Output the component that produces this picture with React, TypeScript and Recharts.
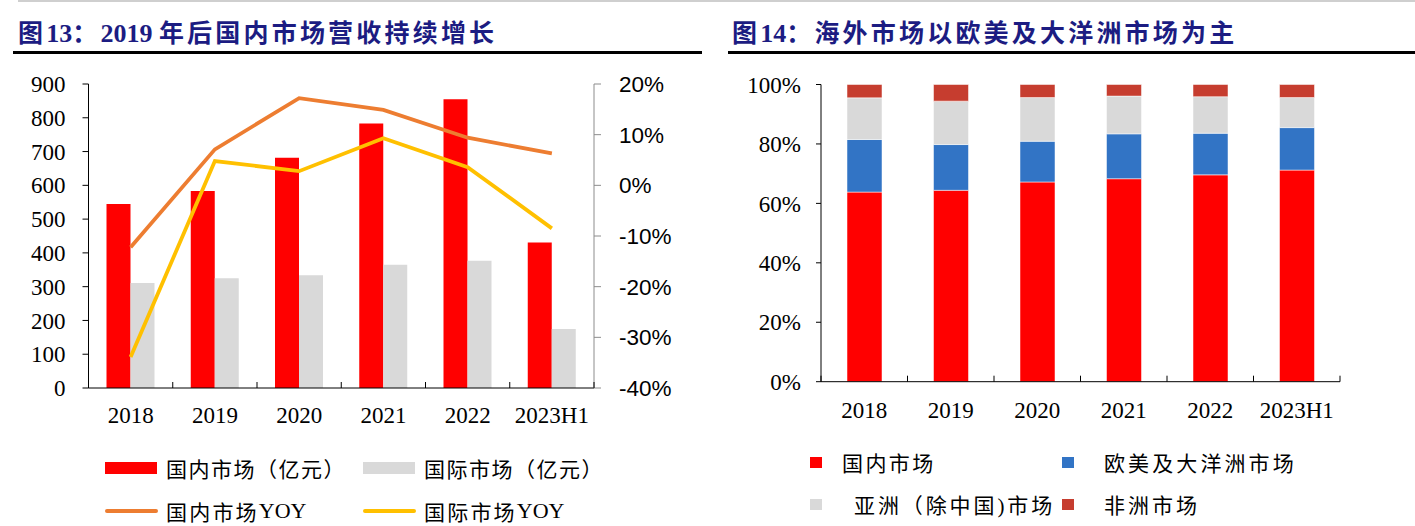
import React from 'react';
import { ComposedChart, BarChart, Bar, Line, XAxis, YAxis } from 'recharts';

const years = ['2018', '2019', '2020', '2021', '2022', '2023H1'];

// 图13 (亿元 / %)
const domesticRevenue = [545, 583, 682, 783, 855, 431];
const overseasRevenue = [311, 325, 334, 365, 377, 175];
const domesticYoy = [-12.2, 7.1, 17.2, 14.9, 9.4, 6.3];
const overseasYoy = [-33.9, 4.8, 2.8, 9.3, 3.6, -8.5];
const revenueTicks = [0, 100, 200, 300, 400, 500, 600, 700, 800, 900];
const yoyTicks = [-40, -30, -20, -10, 0, 10, 20];

// 图14 (%)
const domesticShare = [63.8, 64.4, 67.2, 68.3, 69.6, 71.2];
const euroOceaniaShare = [17.7, 15.4, 13.7, 15.1, 14.0, 14.3];
const asiaShare = [14.0, 14.6, 14.7, 12.7, 12.3, 10.1];
const africaShare = [4.5, 5.6, 4.4, 3.9, 4.1, 4.4];
const shareTicks = [0, 20, 40, 60, 80, 100];

const revenueData = years.map((year, i) => ({
  year,
  domestic: domesticRevenue[i],
  overseas: overseasRevenue[i],
  domesticYoy: domesticYoy[i],
  overseasYoy: overseasYoy[i],
}));

const shareData = years.map((year, i) => ({
  year,
  domestic: domesticShare[i],
  euroOceania: euroOceaniaShare[i],
  asia: asiaShare[i],
  africa: africaShare[i],
}));

const SERIF = "'Liberation Serif', 'Noto Sans CJK SC', serif";
const SANS = "'Liberation Sans', sans-serif";
const CJK = "'Liberation Serif', 'Noto Sans CJK SC', sans-serif";
const TITLE_COLOR = '#1c1c82';

// x-axis tick: short inward mark on each category boundary, label centered below
function makeCategoryTick(band: number, labelDy: number) {
  return function CategoryTick(props: any) {
    const { x, y, payload } = props;
    const isLast = payload.value === years[years.length - 1];
    return (
      <g>
        <line x1={x - band / 2} y1={y} x2={x - band / 2} y2={y - 6} stroke="#000" strokeWidth={1} />
        {isLast && <line x1={x + band / 2} y1={y} x2={x + band / 2} y2={y - 6} stroke="#000" strokeWidth={1} />}
        <text x={x} y={y + labelDy} textAnchor="middle" fill="#000" fontSize={23} fontFamily={SERIF}>
          {payload.value}
        </text>
      </g>
    );
  };
}

// title: CJK parts spaced out, numbers in bold serif
function Title({ left, parts, lineLeft, lineWidth }: { left: number; parts: string[]; lineLeft: number; lineWidth: number }) {
  return (
    <>
      <div
        style={{
          position: 'absolute',
          left,
          top: 20,
          fontWeight: 700,
          lineHeight: '28px',
          color: TITLE_COLOR,
          whiteSpace: 'pre',
        }}
      >
        {parts.map((p, i) =>
          /^[0-9 ]+$/.test(p) ? (
            <span key={i} style={{ fontFamily: SERIF, fontSize: 26 }}>{p}</span>
          ) : (
            <span key={i} style={{ fontFamily: CJK, fontSize: 25, letterSpacing: 3.2 }}>{p}</span>
          )
        )}
      </div>
      <div style={{ position: 'absolute', left: lineLeft, top: 51, width: lineWidth, height: 3, background: '#000' }} />
    </>
  );
}

function LegendItem({ left, top, swatch, label, suffix, spacing }: { left: number; top: number; swatch: React.ReactNode; label: string; suffix?: string; spacing: number }) {
  return (
    <div style={{ position: 'absolute', left, top, display: 'flex', alignItems: 'center', whiteSpace: 'nowrap' }}>
      {swatch}
      <span style={{ fontFamily: CJK, fontSize: 21, letterSpacing: spacing, color: '#000' }}>{label}</span>
      {suffix && <span style={{ fontFamily: SERIF, fontSize: 22, color: '#000' }}>{suffix}</span>}
    </div>
  );
}

export default function App() {
  const leftBand = (594 - 88.5) / years.length;
  const rightBand = (1340 - 821) / years.length;

  const rect = (color: string) => <span style={{ display: 'inline-block', width: 52, height: 12, background: color, marginRight: 9 }} />;
  const line = (color: string) => (
    <span style={{ display: 'inline-block', width: 53, height: 4, borderRadius: 2, background: color, marginRight: 8 }} />
  );
  const square = (color: string, gap: number) => (
    <span style={{ display: 'inline-block', width: 12, height: 11, background: color, marginRight: gap }} />
  );

  return (
    <div style={{ position: 'absolute', left: 0, top: 0, width: 1415, height: 526, background: '#fff', overflow: 'hidden' }}>
      <div style={{ position: 'absolute', left: 18, top: 0, width: 1397, height: 2, background: '#cfcfcf' }} />
      <Title left={18} parts={['图', '13', '：', '2019 ', '年后国内市场营收持续增长']} lineLeft={13} lineWidth={689} />
      <Title left={732} parts={['图', '14', '：海外市场以欧美及大洋洲市场为主']} lineLeft={728} lineWidth={687} />

      <div style={{ position: 'absolute', left: 0, top: 0 }}>
        <ComposedChart
          width={700}
          height={430}
          data={revenueData}
          margin={{ top: 84, right: 0, bottom: 0, left: 0 }}
          barGap={0}
        >
          <XAxis
            dataKey="year"
            interval={0}
            height={42}
            axisLine={{ stroke: '#000' }}
            tickLine={false}
            tickSize={0}
            tickMargin={0}
            tick={makeCategoryTick(leftBand, 35)}
          />
          <YAxis
            yAxisId="left"
            width={88.5}
            domain={[0, 900]}
            ticks={revenueTicks}
            interval={0}
            axisLine={{ stroke: '#000' }}
            tickLine={{ stroke: '#000' }}
            tickSize={6}
            tickMargin={17}
            tick={{ fill: '#000', fontSize: 23, fontFamily: SERIF }}
          />
          <YAxis
            yAxisId="right"
            orientation="right"
            width={106}
            domain={[-40, 20]}
            ticks={yoyTicks}
            interval={0}
            axisLine={{ stroke: '#8c8c8c' }}
            tickLine={{ stroke: '#8c8c8c' }}
            tickSize={7}
            tickMargin={18}
            tickFormatter={(v: number) => `${v}%`}
            tick={{ fill: '#000', fontSize: 22.5, fontFamily: SANS }}
          />
          <Bar yAxisId="left" dataKey="domestic" fill="#ff0000" barSize={24} isAnimationActive={false} />
          <Bar yAxisId="left" dataKey="overseas" fill="#d9d9d9" barSize={24} isAnimationActive={false} />
          <Line yAxisId="right" dataKey="domesticYoy" stroke="#ed7d31" strokeWidth={3.8} dot={false} isAnimationActive={false} />
          <Line yAxisId="right" dataKey="overseasYoy" stroke="#ffc000" strokeWidth={3.8} dot={false} isAnimationActive={false} />
        </ComposedChart>
      </div>

      <div style={{ position: 'absolute', left: 720, top: 0 }}>
        <BarChart width={695} height={430} data={shareData} margin={{ top: 84.5, right: 75, bottom: 0, left: 0 }}>
          <XAxis
            dataKey="year"
            interval={0}
            height={48.3}
            axisLine={{ stroke: '#000' }}
            tickLine={false}
            tickSize={0}
            tickMargin={0}
            tick={makeCategoryTick(rightBand, 36)}
          />
          <YAxis
            width={101}
            domain={[0, 100]}
            ticks={shareTicks}
            interval={0}
            axisLine={{ stroke: '#000' }}
            tickLine={{ stroke: '#000' }}
            tickSize={5}
            tickMargin={15}
            tickFormatter={(v: number) => `${v}%`}
            tick={{ fill: '#000', fontSize: 23, fontFamily: SERIF }}
          />
          <Bar dataKey="domestic" stackId="s" fill="#ff0000" barSize={35} stroke="#ffffff" strokeWidth={0.5} isAnimationActive={false} />
          <Bar dataKey="euroOceania" stackId="s" fill="#3274c5" barSize={35} stroke="#ffffff" strokeWidth={0.5} isAnimationActive={false} />
          <Bar dataKey="asia" stackId="s" fill="#d9d9d9" barSize={35} stroke="#ffffff" strokeWidth={0.5} isAnimationActive={false} />
          <Bar dataKey="africa" stackId="s" fill="#c63d2f" barSize={35} stroke="#ffffff" strokeWidth={0.5} isAnimationActive={false} />
        </BarChart>
      </div>

      {/* legend, left chart */}
      <LegendItem left={105} top={453} swatch={rect('#ff0000')} label="国内市场（亿元）" spacing={1.5} />
      <LegendItem left={363} top={453} swatch={rect('#d9d9d9')} label="国际市场（亿元）" spacing={1.5} />
      <LegendItem left={105} top={496} swatch={line('#ed7d31')} label="国内市场" suffix="YOY" spacing={2.2} />
      <LegendItem left={363} top={496} swatch={line('#ffc000')} label="国际市场" suffix="YOY" spacing={2.2} />

      {/* legend, right chart */}
      <LegendItem left={810} top={447} swatch={square('#ff0000', 20)} label="国内市场" spacing={2.4} />
      <LegendItem left={1062} top={447} swatch={square('#3274c5', 30)} label="欧美及大洋洲市场" spacing={3.1} />
      <LegendItem left={810} top={489} swatch={square('#d9d9d9', 32)} label="亚洲（除中国)市场" spacing={2.9} />
      <LegendItem left={1062} top={489} swatch={square('#c63d2f', 30)} label="非洲市场" spacing={3} />
    </div>
  );
}
